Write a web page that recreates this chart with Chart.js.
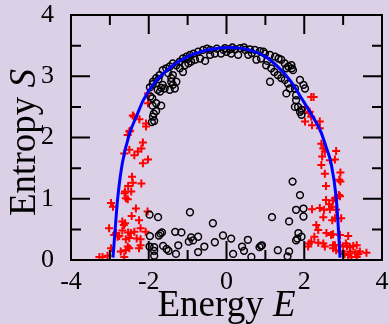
<!DOCTYPE html>
<html>
<head>
<meta charset="utf-8">
<script src="https://cdn.jsdelivr.net/npm/chart.js@4.4.0/dist/chart.umd.min.js"></script>
<style>
  html, body { margin: 0; padding: 0; background: #dcd0e6; }
  canvas { display: block; }
</style>
</head>
<body>
<canvas id="entropyChart" width="389" height="324"></canvas>
<script>
// axis ticks
const xTicks = [-4, -2, 0, 2, 4];
const xMinorTicks = [-3, -1, 1, 3];
const yTicks = [0, 1, 2, 3, 4];
const yMinorTicks = [0.5, 1.5, 2.5, 3.5];

// blue curve
const fitE = [-2.92, -2.87, -2.80, -2.68, -2.49, -2.30, -2.14, -1.87, -1.41, -1.0, -0.6, -0.3, 0.05, 0.59, 1.0, 1.31, 1.65, 1.95, 2.2, 2.41, 2.56, 2.69, 2.82, 2.88, 2.92];
const fitS = [0.04, 0.45, 1.0, 1.58, 2.07, 2.37, 2.61, 2.88, 3.16, 3.32, 3.41, 3.45, 3.47, 3.43, 3.32, 3.16, 2.92, 2.62, 2.36, 2.12, 1.85, 1.58, 1.03, 0.49, 0.04];

// black open circles
const circleE = [
  -1.97, -1.90, -1.96, -1.91, -1.90, -1.87, -1.89, -1.86, -1.92, -1.81, -1.68, -1.81, -1.77, -1.68, -1.64, -1.71, -1.59, -1.46, -1.38, -1.33,
  -1.42, -1.29, -1.64, -1.55, -1.46, -1.38, -1.29, -1.20, -1.12, -1.03, -0.94, -0.85, -0.73, -0.60, -0.42, -0.25, -0.08, -1.20, -1.12, -1.07,
  -0.98, -0.91, -0.81, -0.68, -0.55, -0.42, -0.30, -0.14, 0.0, -1.89, -1.81, -1.72, -1.38, -1.42, -0.5, -1.0, -1.5, -1.75,
  -0.04, 0.09, 0.22, 0.35, 0.48, 0.60, 0.73, 0.86, 0.99, 1.12, 1.25, 1.34, 1.41, 1.50, 1.59, 1.68, 0.12, 0.30, 0.56, 0.77,
  0.89, 1.02, 1.15, 1.23, 1.32, 1.12, 1.41, 1.50, 1.58, 1.63, 1.54, 1.76, 1.89, 1.98, 1.79, 1.84, 1.89, 1.93, 1.76, 2.02,
  1.54, 1.67, 1.71, 1.79, 1.93, 0.15, 0.45, 0.95, 1.05, 0.65,
  1.70, 1.89, 1.79, 1.98, 1.98, 1.61, 1.17, -0.35, -0.94, -1.98, -1.76, -1.97, -1.74, -1.70, -1.66, -1.32, -1.16, -0.91, -0.97, -0.86,
  -0.73, -1.24, -1.63, -1.54, -1.49, -1.98, -1.86, -1.86, -1.86, -1.30, -0.73, -0.57, -0.30, -0.09, 0.12, 0.17, 0.40, 0.45, 0.55, 0.64,
  0.85, 0.89, 0.91, 1.32, 1.61, 1.57, 1.79, 1.82, 1.85, 1.93
];
const circleS = [
  2.82, 2.87, 2.67, 2.64, 2.52, 2.39, 2.34, 2.27, 2.25, 2.43, 2.52, 2.56, 2.78, 2.81, 2.86, 2.75, 2.80, 2.78, 2.86, 2.80,
  2.91, 2.91, 3.10, 3.13, 3.16, 3.21, 3.18, 3.24, 3.29, 3.32, 3.35, 3.37, 3.40, 3.43, 3.43, 3.45, 3.43, 3.13, 3.07, 3.18,
  3.21, 3.24, 3.27, 3.29, 3.25, 3.35, 3.37, 3.37, 3.40, 2.91, 2.97, 3.02, 3.02, 2.97, 3.45, 3.28, 3.05, 2.95,
  3.46, 3.44, 3.44, 3.46, 3.43, 3.44, 3.43, 3.41, 3.37, 3.35, 3.32, 3.29, 3.27, 3.21, 3.16, 3.13, 3.37, 3.35, 3.35, 3.27,
  3.29, 3.18, 3.13, 3.07, 3.02, 2.91, 2.97, 2.94, 2.88, 2.80, 2.72, 2.80, 2.94, 2.86, 2.61, 2.50, 2.42, 2.37, 2.50, 2.80,
  3.13, 3.18, 3.10, 2.69, 2.45, 3.47, 3.47, 3.40, 3.25, 3.38,
  1.28, 1.06, 0.82, 0.84, 0.71, 0.63, 0.70, 0.60, 0.78, 0.74, 0.70, 0.39, 0.40, 0.43, 0.45, 0.46, 0.45, 0.37, 0.30, 0.32,
  0.38, 0.24, 0.23, 0.18, 0.15, 0.22, 0.21, 0.15, 0.07, 0.10, 0.13, 0.22, 0.29, 0.40, 0.35, 0.10, 0.22, 0.15, 0.33, 0.05,
  0.21, 0.23, 0.24, 0.16, 0.14, 0.06, 0.32, 0.35, 0.44, 0.38
];

// red plus signs
const plusE = [
  -2.02, -2.02, -2.38, -2.24, -2.07, -2.07, -2.50, -2.54, -2.48, -2.15, -2.19, -2.28, -2.37, -2.50, -2.63, -2.02, -2.15, -2.43, -2.53, -2.61,
  -2.59, -2.54, -2.97, -2.92, -2.33, -2.44, -2.68, -2.61, -2.64, -2.25, -2.21, -2.08, -3.02, -2.84, -2.80, -2.76, -2.68, -2.53, -2.46, -2.37,
  -2.59, -2.50, -2.31, -2.21, -2.21, -2.25, -2.54, -2.50, -2.59, -2.72, -2.63, -2.97, -3.27, -3.19, -3.06, -2.89, -2.41, -2.45, -2.62, -2.03,
  -2.41, -2.19,
  2.12, 2.18, 2.02, 2.20, 2.40, 2.40, 2.18, 2.24, 2.02, 2.14, 2.44, 2.49, 2.53, 2.82, 2.46, 2.66, 2.79, 2.93, 2.53, 2.90,
  2.93, 2.56, 2.92, 2.56, 2.74, 2.79, 2.64, 2.72, 2.20, 2.40, 2.51, 2.66, 2.82, 2.49, 2.72, 2.79, 2.95, 2.31, 2.36, 2.57,
  2.69, 2.74, 2.92, 3.13, 2.26, 2.18, 2.12, 2.10, 2.36, 2.49, 2.53, 2.74, 2.92, 2.74, 2.82, 2.92, 3.00, 3.07, 3.10, 3.18,
  3.26, 3.35, 3.18, 3.31, 3.39, 3.43, 3.60, 3.13, 3.04, 3.35, 3.21, 2.79, 2.89, 2.44
];
const plusS = [
  2.72, 2.56, 2.34, 2.30, 2.23, 2.18, 2.10, 2.04, 2.11, 1.92, 1.82, 1.77, 1.71, 1.80, 1.74, 1.64, 1.58, 1.36, 1.21, 1.12,
  1.01, 0.99, 0.93, 0.87, 0.84, 0.72, 0.63, 0.60, 0.57, 0.65, 0.52, 0.46, 0.52, 0.44, 0.38, 0.39, 0.48, 0.45, 0.44, 0.46,
  0.34, 0.36, 0.35, 0.34, 0.24, 0.19, 0.22, 0.19, 0.16, 0.14, 0.05, 0.19, 0.05, 0.05, 0.07, 0.41, 2.36, 1.12, 1.09, 0.79,
  1.26, 1.25,
  2.40, 2.34, 2.26, 2.20, 2.26, 2.15, 2.66, 2.66, 2.50, 2.42, 1.90, 1.82, 1.77, 1.78, 1.69, 1.63, 1.64, 1.43, 1.41, 1.31,
  1.28, 1.21, 1.04, 0.98, 0.97, 1.01, 0.91, 0.87, 0.83, 0.85, 0.82, 0.83, 0.82, 0.70, 0.65, 0.68, 0.68, 0.57, 0.49, 0.44,
  0.41, 0.42, 0.41, 0.39, 0.38, 0.30, 0.27, 0.22, 0.28, 0.27, 0.22, 0.24, 0.24, 0.19, 0.16, 0.14, 0.22, 0.27, 0.23, 0.21,
  0.23, 0.24, 0.14, 0.11, 0.10, 0.14, 0.12, 0.08, 0.10, 0.05, 0.05, 0.24, 1.06, 1.55
];

const serif = '"Liberation Serif", "DejaVu Serif", serif';
const bgColor = '#dcd0e6';

function pairs(xs, ys) {
  return xs.map((x, i) => ({ x: x, y: ys[i] }));
}

// frame, inward ticks, axis titles
const framePlugin = {
  id: 'frame',
  beforeDraw(chart) {
    const ctx = chart.ctx;
    ctx.save();
    ctx.fillStyle = bgColor;
    ctx.fillRect(0, 0, chart.width, chart.height);
    ctx.restore();
  },
  afterDraw(chart) {
    const ctx = chart.ctx;
    const a = chart.chartArea;
    const xs = chart.scales.x, ys = chart.scales.y;
    ctx.save();
    ctx.strokeStyle = '#000';
    ctx.lineWidth = 2;
    ctx.strokeRect(a.left, a.top, a.right - a.left, a.bottom - a.top);

    ctx.beginPath();
    const xTick = (v, len) => {
      const px = xs.getPixelForValue(v);
      ctx.moveTo(px, a.bottom); ctx.lineTo(px, a.bottom - len);
      ctx.moveTo(px, a.top); ctx.lineTo(px, a.top + len);
    };
    const yTick = (v, len) => {
      const py = ys.getPixelForValue(v);
      ctx.moveTo(a.left, py); ctx.lineTo(a.left + len, py);
      ctx.moveTo(a.right, py); ctx.lineTo(a.right - len, py);
    };
    xTicks.forEach(v => xTick(v, 19));
    xMinorTicks.forEach(v => xTick(v, 10));
    yTicks.forEach(v => yTick(v, 19));
    yMinorTicks.forEach(v => yTick(v, 10));
    ctx.stroke();

    // titles with italic symbol
    ctx.fillStyle = '#000';
    ctx.textBaseline = 'alphabetic';
    const drawTitle = (plain, sym, cx, base) => {
      ctx.font = '37px ' + serif;
      const w1 = ctx.measureText(plain).width;
      ctx.font = 'italic 37px ' + serif;
      const w2 = ctx.measureText(sym).width;
      let x0 = cx - (w1 + w2) / 2;
      ctx.font = '37px ' + serif;
      ctx.textAlign = 'left';
      ctx.fillText(plain, x0, base);
      ctx.font = 'italic 37px ' + serif;
      ctx.fillText(sym, x0 + w1, base);
    };
    drawTitle('Energy ', 'E', (a.left + a.right) / 2, 316);
    ctx.translate(35, (a.top + a.bottom) / 2 + 5);
    ctx.rotate(-Math.PI / 2);
    drawTitle('Entropy ', 'S', 0, 0);
    ctx.restore();
  }
};

new Chart(document.getElementById('entropyChart'), {
  type: 'scatter',
  data: {
    datasets: [
      {
        type: 'line',
        data: pairs(fitE, fitS),
        borderColor: '#0000ff',
        borderWidth: 3,
        pointRadius: 0,
        fill: false,
        cubicInterpolationMode: 'monotone'
      },
      {
        data: pairs(circleE, circleS),
        pointStyle: 'circle',
        pointRadius: 3.4,
        borderWidth: 1.5,
        borderColor: '#000',
        backgroundColor: 'rgba(0,0,0,0)'
      },
      {
        data: pairs(plusE, plusS),
        pointStyle: 'cross',
        pointRadius: 4,
        borderWidth: 2,
        borderColor: '#ff0000',
        backgroundColor: '#ff0000'
      }
    ]
  },
  options: {
    responsive: false,
    animation: false,
    devicePixelRatio: 1,
    layout: { padding: { top: 15, right: 7, left: 0, bottom: 0 } },
    plugins: { legend: { display: false }, tooltip: { enabled: false } },
    scales: {
      x: {
        type: 'linear',
        min: -4,
        max: 4,
        afterBuildTicks: s => { s.ticks = xTicks.map(v => ({ value: v })); },
        ticks: { color: '#000', font: { family: serif, size: 26 }, padding: -1, maxRotation: 0 },
        grid: { display: false },
        border: { display: false },
        afterFit: s => { s.height = 64; s.paddingLeft = 0; s.paddingRight = 0; }
      },
      y: {
        type: 'linear',
        min: 0,
        max: 4,
        afterBuildTicks: s => { s.ticks = yTicks.map(v => ({ value: v })); },
        ticks: { color: '#000', font: { family: serif, size: 26 }, padding: 9 },
        grid: { display: false },
        border: { display: false },
        afterFit: s => { s.width = 71; s.paddingTop = 0; s.paddingBottom = 0; }
      }
    }
  },
  plugins: [framePlugin]
});
</script>
</body>
</html>
